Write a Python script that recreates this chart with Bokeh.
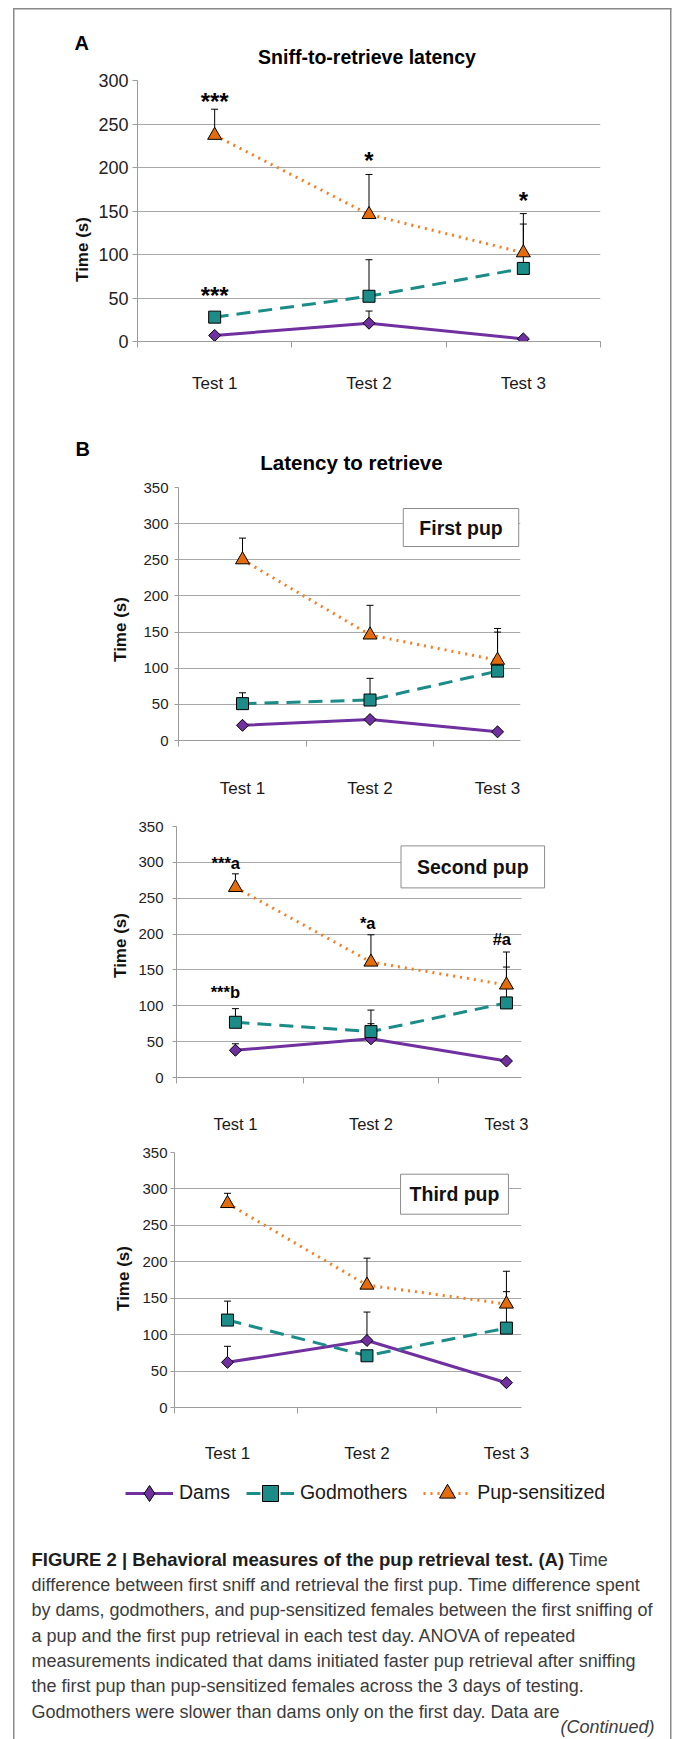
import numpy as np
from bokeh.plotting import figure
from bokeh.models import (ColumnDataSource, Whisker, TeeHead, Label, Legend, LegendItem,
                          FixedTicker, Range1d, Grid)
from bokeh.layouts import column, row
from bokeh.embed import file_html
from bokeh.resources import INLINE
from bokeh.core.properties import value

# ---------------- data ----------------
tests = ["Test 1", "Test 2", "Test 3"]
groups = ["Dams", "Godmothers", "Pup-sensitized"]

# (A) Sniff-to-retrieve latency (s): mean and SEM
a_dams = [7, 21, 3]
a_dams_sem = [2, 14, 1]
a_god = [28, 52, 84]
a_god_sem = [3, 42, 51]
a_pup = [237, 146, 102]
a_pup_sem = [30, 46, 45]

# (B) Latency to retrieve - first pup
b1_dams = [21, 29, 12]
b1_dams_sem = [2, 3, 2]
b1_god = [51, 56, 96]
b1_god_sem = [15, 30, 54]
b1_pup = [250, 146, 111]
b1_pup_sem = [30, 41, 44]

# second pup
b2_dams = [38, 54, 23]
b2_dams_sem = [9, 21, 2]
b2_god = [77, 64, 104]
b2_god_sem = [19, 30, 50]
b2_pup = [265, 161, 129]
b2_pup_sem = [19, 38, 46]

# third pup
b3_dams = [62, 92, 34]
b3_dams_sem = [22, 39, 2]
b3_god = [120, 71, 109]
b3_god_sem = [26, 3, 50]
b3_pup = [280, 168, 142]
b3_pup_sem = [14, 37, 45]

# significance marks: (test index, group, text)
a_marks = [(0, "pup", "***"), (1, "pup", "*"), (2, "pup", "*"), (0, "god", "***")]
b2_marks = [(0, "pup", "***a"), (1, "pup", "*a"), (2, "pup", "#a"), (0, "god", "***b")]

caption_bold = "FIGURE 2 | Behavioral measures of the pup retrieval test. (A)"
caption_lines = [
    "difference between first sniff and retrieval the first pup. Time difference spent",
    "by dams, godmothers, and pup-sensitized females between the first sniffing of",
    "a pup and the first pup retrieval in each test day. ANOVA of repeated",
    "measurements indicated that dams initiated faster pup retrieval after sniffing",
    "the first pup than pup-sensitized females across the 3 days of testing.",
    "Godmothers were slower than dams only on the first day. Data are",
]

# ---------------- style ----------------
FONT = "Liberation Sans"
C_DAMS = "#7030A0"
C_GOD = "#1B8C88"
C_PUP_FILL = "#E46C0A"
C_PUP_LINE = "#F47D20"
GRID = "#A8A8A8"
AXIS = "#9C9C9C"
BORDER = "#8A8A8A"
W = 673
HAS_CB = "cross_bounds" in Grid.properties()


def label(p, sx, sy, text, size, bold=False, italic=False, align="left",
          baseline="alphabetic", color="#1a1a1a", **kw):
    style = "bold" if bold else ("italic" if italic else "normal")
    p.add_layout(Label(x=sx, y=sy, x_units="screen", y_units="screen", text=text,
                       text_font=FONT, text_font_size=f"{size}px", text_font_style=style,
                       text_align=align, text_baseline=baseline, text_color=color, **kw))


def blank(w, h, mt=0, mb=0):
    p = figure(width=w, height=h, x_range=Range1d(0, w), y_range=Range1d(0, h),
               x_axis_type=None, y_axis_type=None, output_backend="svg",
               toolbar_location=None, title=None, min_border=0,
               min_border_top=mt, min_border_bottom=mb)
    p.outline_line_color = None
    p.background_fill_color = None
    p.border_fill_color = None
    return p


def make_chart(w, h, ml, mr, mt, mb, xr, ymax, data, ytick_size, ytick_standoff, ytick_out,
               xlab_size, xlab_standoff, minor, cross=None):
    dams, dams_sem, god, god_sem, pup, pup_sem = data
    p = figure(width=w, height=h, x_range=Range1d(*xr), y_range=Range1d(0, ymax),
               output_backend="svg", toolbar_location=None, title=None,
               min_border_left=ml, min_border_right=mr,
               min_border_top=mt, min_border_bottom=mb)
    p.outline_line_color = None
    p.background_fill_color = None
    p.border_fill_color = None
    p.xgrid.visible = False
    yt = list(range(0, ymax + 1, 50))
    p.yaxis.ticker = FixedTicker(ticks=yt)
    p.ygrid.ticker = FixedTicker(ticks=yt)
    p.ygrid.grid_line_color = GRID
    p.ygrid.grid_line_width = 1
    if cross is not None:
        p.ygrid.cross_bounds = cross
    ya = p.yaxis[0]
    ya.axis_line_color = AXIS
    ya.major_tick_line_color = AXIS
    ya.major_tick_out = ytick_out
    ya.major_tick_in = 0
    ya.minor_tick_line_color = None
    ya.major_label_text_font = FONT
    ya.major_label_text_font_size = f"{ytick_size}px"
    ya.major_label_text_color = "#222222"
    ya.major_label_standoff = ytick_standoff

    xa = p.xaxis[0]
    xa.ticker = FixedTicker(ticks=[1, 2, 3], minor_ticks=minor)
    xa.major_label_overrides = {i + 1: t for i, t in enumerate(tests)}
    if cross is not None:
        xa.bounds = cross
    xa.axis_line_color = AXIS
    xa.major_tick_line_color = None
    xa.major_tick_out = 0
    xa.major_tick_in = 0
    xa.minor_tick_line_color = AXIS
    xa.minor_tick_out = 6
    xa.minor_tick_in = 0
    xa.major_label_text_font = FONT
    xa.major_label_text_font_size = f"{xlab_size}px"
    xa.major_label_text_color = "#1a1a1a"
    xa.major_label_standoff = xlab_standoff

    src = ColumnDataSource(dict(
        x=[1, 2, 3],
        dams=dams, dams_up=[v + s for v, s in zip(dams, dams_sem)],
        god=god, god_up=[v + s for v, s in zip(god, god_sem)],
        pup=pup, pup_up=[v + s for v, s in zip(pup, pup_sem)],
    ))
    for key in ["dams", "god", "pup"]:
        p.add_layout(Whisker(source=src, base="x", lower=key, upper=key + "_up",
                             line_color="black", line_width=1, level="underlay",
                             lower_head=None,
                             upper_head=TeeHead(size=7, line_color="black", line_width=1)))

    p.line("x", "dams", source=src, line_color=C_DAMS, line_width=3)
    p.scatter("x", "dams", source=src, marker="square", angle=np.pi / 4, size=8.5,
              fill_color=C_DAMS, line_color="black", line_width=1)
    p.line("x", "god", source=src, line_color=C_GOD, line_width=3, line_dash="14 8")
    p.scatter("x", "god", source=src, marker="square", size=12,
              fill_color=C_GOD, line_color="black", line_width=1)
    p.line("x", "pup", source=src, line_color=C_PUP_LINE, line_width=3, line_dash="2 5")
    p.scatter("x", "pup", source=src, marker="triangle", size=14,
              fill_color=C_PUP_FILL, line_color="black", line_width=1)
    return p, src


def add_marks(p, src, marks, size, align, x_off, y_offs):
    d = src.data
    xs, ys, ts = [], [], []
    for i, g, t in marks:
        xs.append(d["x"][i])
        ys.append(d[g + "_up"][i])
        ts.append(t)
    ms = ColumnDataSource(dict(x=xs, y=ys, text=ts, yo=y_offs))
    p.text(x="x", y="y", text="text", source=ms, text_font=value(FONT),
           text_font_size=f"{size}px", text_font_style="bold", text_color="black",
           text_align=align, text_baseline="alphabetic", x_offset=x_off, y_offset="yo")


def box_label(p, sx, sy, text, padx, pady):
    label(p, sx, sy, text, 19.5, bold=True, align="center", baseline="middle",
          color="#111111", background_fill_color="white", border_line_color="#8C8C8C",
          border_line_width=1,
          padding=dict(left=padx, right=padx, top=pady, bottom=pady))


def chart_row(top, h, mt, mb, strip_w, title_x, title_y, chart):
    # strip frame is aligned with the chart frame (same top/bottom borders)
    s = blank(strip_w, h, mt, mb)
    frame_bottom = top + h - mb
    label(s, title_x, frame_bottom - title_y, "Time (s)", 17, bold=True, align="center",
          baseline="middle", color="#111111", angle=np.pi / 2)
    return row(s, chart, spacing=0)


# ---------------- header A (page y 0-70) ----------------
hA = blank(W, 70)
label(hA, 74, 70 - 42.7, "A", 20, bold=True, color="black")
label(hA, 366.5, 70 - 56.5, "Sniff-to-retrieve latency", 19.5, bold=True,
      align="center", color="black")

# ---------------- panel A (page y 70-400) ----------------
sA_w = 94
pA, srcA = make_chart(W - sA_w, 330, 43, 73, 10, 59, (0.5, 3.5), 300,
                      (a_dams, a_dams_sem, a_god, a_god_sem, a_pup, a_pup_sem),
                      18, 4, 5, 17, 26, [0.5, 1.5, 2.5, 3.5])
add_marks(pA, srcA, a_marks, 24, "center", 0, [-8, -14, -13, -19])
rowA = chart_row(70, 330, 10, 59, sA_w, 82, 249, pA)

# ---------------- header B (page y 400-476) ----------------
hB = blank(W, 76)
label(hB, 75, 76 - 48.3, "B", 20, bold=True, color="black")
label(hB, 351, 76 - 61.5, "Latency to retrieve", 20.5, bold=True, align="center",
      color="black")

# ---------------- first pup (page y 476-800) ----------------
s1_w = 136
pB1, srcB1 = make_chart(W - s1_w, 324, 42, 153, 11, 59, (0.498, 3.18), 350,
                        (b1_dams, b1_dams_sem, b1_god, b1_god_sem, b1_pup, b1_pup_sem),
                        15, 6, 4, 17, 32, [0.498, 1.5, 2.5])
box_label(pB1, 460.5 - 178, 741 - 528, "First pup", 16, 8)
rowB1 = chart_row(476, 324, 11, 59, s1_w, 119.5, 630, pB1)

# ---------------- second pup (page y 800-1135) ----------------
s2_w = 133
if HAS_CB:
    pB2, srcB2 = make_chart(W - s2_w, 335, 43, 126, 26, 58, (0.565, 3.303), 350,
                            (b2_dams, b2_dams_sem, b2_god, b2_god_sem, b2_pup, b2_pup_sem),
                            15, 9, 4, 16.5, 31, [0.565, 1.5, 2.5], cross=(0.565, 3.11))
    box_label(pB2, 472.3 - 176, 1077 - 866.4, "Second pup", 16, 10)
else:
    pB2, srcB2 = make_chart(W - s2_w, 335, 43, 152, 26, 58, (0.565, 3.11), 350,
                            (b2_dams, b2_dams_sem, b2_god, b2_god_sem, b2_pup, b2_pup_sem),
                            15, 9, 4, 16.5, 31, [0.565, 1.5, 2.5])
    box_label(pB2, 458 - 176, 1077 - 866.4, "Second pup", 8, 10)
add_marks(pB2, srcB2, b2_marks, 16.5, "right", 4.6, [-11, -11.5, -13, -17])
rowB2 = chart_row(800, 335, 26, 58, s2_w, 119.5, 945, pB2)

# ---------------- third pup (page y 1135-1465) ----------------
s3_w = 134
pB3, srcB3 = make_chart(W - s3_w, 330, 40, 152, 17, 56, (0.62, 3.108), 350,
                        (b3_dams, b3_dams_sem, b3_god, b3_god_sem, b3_pup, b3_pup_sem),
                        15, 3, 4, 17, 30, [0.62, 1.5, 2.5])
box_label(pB3, 454 - 174, 1409 - 1195.7, "Third pup", 9, 9)
rowB3 = chart_row(1135, 330, 17, 56, s3_w, 122.5, 1280, pB3)

# ---------------- footer: legend + caption (page y 1465-1739) ----------------
FH = 274
ft = blank(W, FH)
key = ColumnDataSource(dict(x=[np.nan], y=[np.nan]))
ld = ft.line("x", "y", source=key, line_color=C_DAMS, line_width=3)
md = ft.scatter("x", "y", source=key, marker="diamond", fill_color=C_DAMS,
                line_color="black", line_width=1)
lg = ft.line("x", "y", source=key, line_color=C_GOD, line_width=3, line_dash="14 20")
mg = ft.scatter("x", "y", source=key, marker="square", fill_color=C_GOD,
                line_color="black", line_width=1)
lp = ft.line("x", "y", source=key, line_color=C_PUP_LINE, line_width=3, line_dash="2 5")
mp = ft.scatter("x", "y", source=key, marker="triangle", fill_color=C_PUP_FILL,
                line_color="black", line_width=1)
leg = Legend(items=[LegendItem(label=groups[0], renderers=[ld, md]),
                    LegendItem(label=groups[1], renderers=[lg, mg]),
                    LegendItem(label=groups[2], renderers=[lp, mp])],
             location=(125, FH - 47.7), orientation="horizontal", padding=0, margin=0,
             spacing=16, glyph_width=48, glyph_height=40, label_height=40,
             label_standoff=6, border_line_color=None, background_fill_alpha=0,
             label_text_font=FONT, label_text_font_size="19.5px", label_text_color="#1a1a1a")
ft.add_layout(leg)

Y0 = 1739  # page bottom
label(ft, 31, Y0 - 1559.3, caption_bold, 18.5, bold=True, color="#1e1e1e")
label(ft, 568, Y0 - 1559.3, "Time", 18, color="#3c3c3c")
for k, line in enumerate(caption_lines):
    label(ft, 31, Y0 - (1584.6 + 25.3 * k), line, 18, color="#3c3c3c")
label(ft, 654, Y0 - 1726.5, "(Continued)", 18, italic=True, align="right", color="#3c3c3c")

# outer frame of the figure panel (left, right and top rules), drawn behind the plots
g = f"linear-gradient({BORDER}, {BORDER})"
frame_css = {
    "background-color": "white",
    "background-image": f"{g}, {g}, {g}",
    "background-size": "1.5px 100%, 1.5px 100%, 658.5px 1.5px",
    "background-position": "13.25px 7.5px, 670.25px 7.5px, 13.25px 7.5px",
    "background-repeat": "no-repeat",
}
layout = column(hA, rowA, hB, rowB1, rowB2, rowB3, ft, spacing=0, styles=frame_css)
open("out.html", "w").write(file_html(layout, INLINE))
